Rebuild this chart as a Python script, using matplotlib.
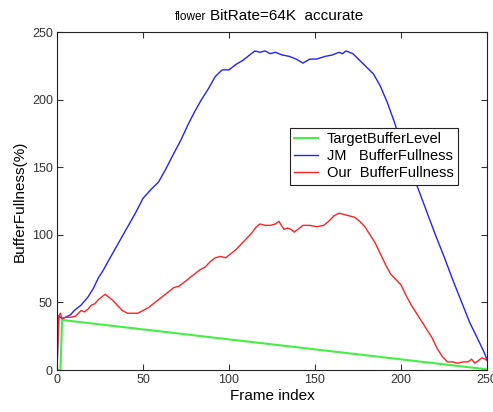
import matplotlib
matplotlib.use("Agg")
import matplotlib.pyplot as plt

plt.rcParams['font.family'] = ['Liberation Sans', 'DejaVu Sans']

# target buffer level: jumps up at start then falls linearly
target_frames = [0, 2, 3, 250]
target_level = [0, 0, 37, 0.5]

# JM rate control buffer fullness
jm_frames = [0, 1, 3, 5, 8, 10, 14, 18, 21, 24, 27, 30, 34, 38, 42, 46, 50, 55,
             59, 63, 67, 72, 76, 80, 84, 88, 92, 96, 100, 104, 108, 112, 115,
             118, 121, 124, 127, 131, 135, 139, 143, 147, 151, 156, 160, 164,
             166, 168, 172, 176, 180, 184, 188, 192, 196, 200, 205, 210, 215,
             220, 225, 230, 235, 240, 245, 248, 250]
jm_fullness = [0, 40, 38, 39, 41, 44, 48, 54, 60, 68, 74, 81, 90, 99, 108, 117,
               127, 134, 139, 148, 158, 170, 181, 191, 200, 208, 217, 222, 222,
               226, 229, 233, 236, 235, 236, 234, 235, 233, 232, 230, 227, 230,
               230, 232, 233, 235, 234, 236, 234, 229, 224, 219, 210, 198, 184,
               168, 151, 134, 117, 100, 84, 67, 51, 35, 22, 14, 8]

# our rate control buffer fullness
our_frames = [0, 1, 2, 3, 5, 8, 11, 14, 16, 18, 20, 22, 24, 26, 28, 30, 32, 35,
              38, 41, 44, 47, 50, 53, 56, 59, 62, 65, 68, 71, 74, 77, 80, 83,
              86, 89, 92, 95, 98, 101, 104, 107, 110, 113, 116, 118, 121, 124,
              127, 129, 132, 134, 136, 138, 141, 143, 147, 151, 155, 158, 161,
              164, 167, 170, 173, 176, 179, 182, 185, 188, 191, 194, 197, 200,
              203, 206, 209, 212, 215, 218, 221, 224, 227, 230, 233, 236, 239,
              241, 243, 245, 247, 249, 250]
our_fullness = [0, 40, 42, 38, 39, 39, 40, 44, 43, 45, 48, 49, 52, 54, 56, 54,
                52, 48, 44, 42, 42, 42, 44, 46, 49, 52, 55, 58, 61, 62, 65, 68,
                71, 74, 76, 80, 83, 84, 83, 86, 89, 93, 97, 101, 106, 108, 107,
                107, 108, 110, 104, 105, 104, 102, 105, 107, 107, 106, 107, 110,
                114, 116, 115, 114, 113, 110, 106, 100, 94, 86, 78, 71, 67, 63,
                55, 48, 42, 36, 30, 24, 16, 10, 6, 6, 5, 6, 6, 8, 5, 7, 9, 8, 7]

fig = plt.figure(figsize=(4.93, 4.12), dpi=100)
ax = fig.add_axes([0.1156, 0.1019, 0.8722, 0.8204])

ax.plot(target_frames, target_level, color='#44ee44', lw=1.5,
        label='TargetBufferLevel')
ax.plot(jm_frames, jm_fullness, color='#2222ff', lw=1.0,
        label='JM   BufferFullness')
ax.plot(our_frames, our_fullness, color='#ff2222', lw=1.0,
        label='Our  BufferFullness')

ax.set_xlim(0, 250)
ax.set_ylim(0, 250)
ax.set_xticks(range(0, 251, 50))
ax.set_yticks(range(0, 251, 50))
ax.tick_params(direction='in', length=4, top=True, right=True,
               labelsize=9, colors='#333333', pad=3)
for sp in ax.spines.values():
    sp.set_linewidth(0.8)
    sp.set_color('#222222')

ax.set_xlabel('Frame index', fontsize=11, labelpad=2)
ax.set_ylabel('BufferFullness(%)', fontsize=11, labelpad=4)

fig.text(206 / 493, 1 - 20 / 412, 'flower', fontsize=8.5, ha='right',
         va='baseline')
fig.text(210 / 493, 1 - 20 / 412, 'BitRate=64K  accurate', fontsize=11,
         ha='left', va='baseline')

leg = ax.legend(loc='upper left', bbox_to_anchor=(0.542, 0.716),
                fontsize=10.5, fancybox=False, framealpha=1,
                edgecolor='#222222', handlelength=1.6, borderpad=0.3,
                labelspacing=0.2, handletextpad=0.6, borderaxespad=0)
leg.get_frame().set_linewidth(0.8)

fig.savefig('out.png', dpi=100)
